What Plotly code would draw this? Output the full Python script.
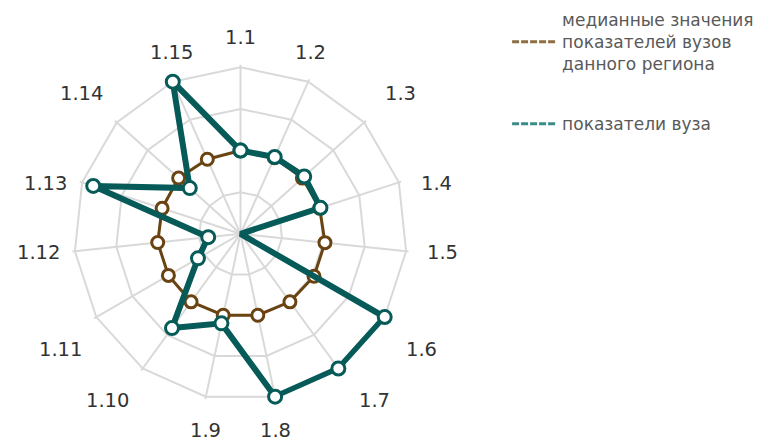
import plotly.graph_objects as go

categories = ["1.1", "1.2", "1.3", "1.4", "1.5", "1.6", "1.7", "1.8",
              "1.9", "1.10", "1.11", "1.12", "1.13", "1.14", "1.15"]
median_values = [1.0, 1.0, 1.0, 1.0, 1.02, 1.02, 1.01, 1.0,
                 1.0, 1.01, 1.0, 1.0, 0.99, 1.0, 0.98]
uni_values = [1.0, 1.01, 1.03, 1.01, 0.0, 2.0, 2.0, 2.0,
              1.1, 1.4, 0.59, 0.39, 1.86, 0.82, 2.0]
name_median = "медианные значения<br>показателей вузов<br>данного региона"
name_uni = "показатели вуза"

teal = "#065b59"
brown = "#6a4312"

def closed(v):
    return list(v) + [v[0]]

fig = go.Figure()
fig.add_trace(go.Scatterpolar(
    r=closed(median_values), theta=closed(categories), mode="lines+markers",
    line=dict(color=brown, width=3), cliponaxis=False,
    marker=dict(size=12, color="white", line=dict(color=brown, width=3)),
    showlegend=False))
fig.add_trace(go.Scatterpolar(
    r=closed(uni_values), theta=closed(categories), mode="lines+markers",
    line=dict(color=teal, width=6), cliponaxis=False,
    marker=dict(size=13, color="white", line=dict(color=teal, width=3)),
    showlegend=False))
# legend entries
fig.add_trace(go.Scatterpolar(
    r=[None], theta=[categories[0]], mode="lines", name=name_median,
    legendgroup="a", line=dict(color="#8d6d42", width=3, dash="7px,2px")))
fig.add_trace(go.Scatterpolar(
    r=[None], theta=[categories[0]], mode="lines", name=name_uni,
    legendgroup="b", line=dict(color="#3a8c88", width=3, dash="7px,2px")))

W, H = 762, 441
off = 8  # page body margin
cx, cy, R = 240.5 - off, 233.8 - off, 166.5
rmax = 2.03           # slightly beyond last ring so outer strokes aren't clipped
R2 = R * rmax / 2.0

# label placement (px, relative to polar centre) for the right half;
# left half mirrors it
right_label_pos = [(0, -196.5), (69.5, -181.5), (159.5, -140.5),
                   (195.5, -50.5), (202, 18.5), (180.5, 115.5),
                   (133.5, 167), (35, 196.5)]
n = len(categories)
fs = 19.5
annotations = []
for i, lab in enumerate(categories):
    if i < len(right_label_pos):
        dx, dy = right_label_pos[i]
    else:
        dx, dy = right_label_pos[n - i]
        dx = -dx
    px, py = cx + dx, cy + dy
    annotations.append(dict(
        text=lab, x=px / W, y=1 - py / H, xref="paper", yref="paper",
        xanchor="center", yanchor="middle", showarrow=False,
        font=dict(size=fs, color="#333333", family="DejaVu Sans")))

fig.update_layout(
    width=W, height=H,
    margin=dict(l=0, r=0, t=0, b=0, autoexpand=False),
    paper_bgcolor="white",
    font=dict(family="DejaVu Sans", color="#333333"),
    polar=dict(
        domain=dict(x=[(cx - R2) / W, (cx + R2) / W],
                    y=[(H - cy - R2) / H, (H - cy + R2) / H]),
        bgcolor="white",
        gridshape="linear",
        radialaxis=dict(range=[0, rmax], tickvals=[0.5, 1.0, 1.5, 2.0],
                        showticklabels=False,
                        ticks="", showline=False, gridcolor="#d9d9d9",
                        gridwidth=1.5),
        angularaxis=dict(direction="clockwise", rotation=90,
                         categoryorder="array", categoryarray=categories,
                         gridcolor="#d9d9d9", gridwidth=1.5,
                         showline=False,
                         ticks="", showticklabels=False),
    ),
    annotations=annotations,
    legend=dict(x=0.655, y=1.0136, xanchor="left", yanchor="top",
                traceorder="grouped", tracegroupgap=35, itemwidth=45,
                font=dict(size=17, color="#595959"),
                bgcolor="rgba(0,0,0,0)"),
)
fig.write_html("out.html")
